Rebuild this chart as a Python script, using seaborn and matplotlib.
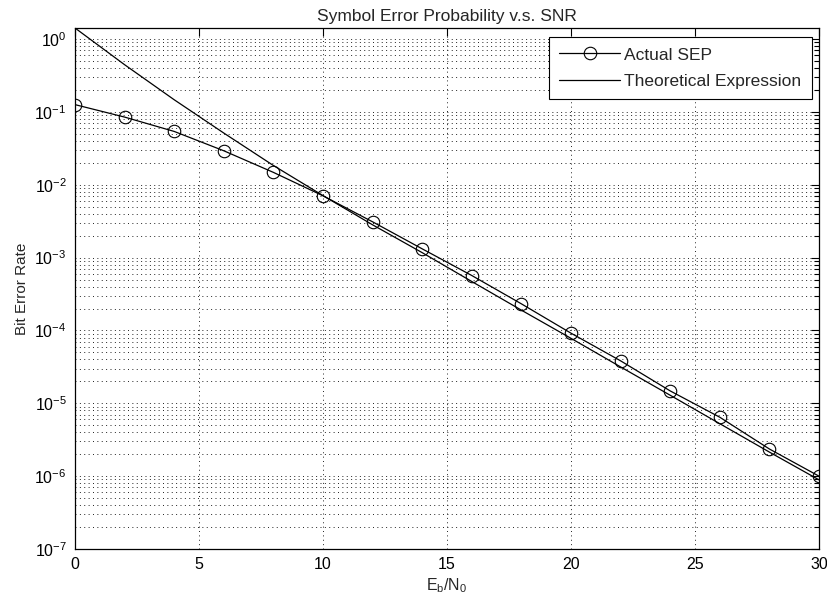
import matplotlib
matplotlib.use("Agg")
import matplotlib.pyplot as plt
from matplotlib.ticker import LogLocator, NullFormatter, FixedLocator
import numpy as np
import pandas as pd
import seaborn as sns

# Eb/N0 in dB
snr_db = [0, 2, 4, 6, 8, 10, 12, 14, 16, 18, 20, 22, 24, 26, 28, 30]

# simulated symbol error probability
actual_sep = [1.26e-1, 8.5e-2, 5.4e-2, 2.93e-2, 1.48e-2, 7.06e-3, 3.1e-3,
              1.32e-3, 5.68e-4, 2.32e-4, 9.18e-5, 3.83e-5, 1.48e-5,
              6.44e-6, 2.36e-6, 1.0e-6]

# closed-form curve
theory_sep = [1.42, 4.45e-1, 1.47e-1, 5.13e-2, 1.84e-2, 7.1e-3, 2.82e-3,
              1.17e-3, 4.7e-4, 1.9e-4, 7.8e-5, 3.16e-5, 1.29e-5,
              5.25e-6, 2.14e-6, 8.9e-7]

x_ticks = [0, 5, 10, 15, 20, 25, 30]
y_ticks = [1e-7, 1e-6, 1e-5, 1e-4, 1e-3, 1e-2, 1e-1, 1e0]

sns.set_style("white")
plt.rcParams["font.family"] = ["Liberation Sans", "DejaVu Sans"]
plt.rcParams["mathtext.fontset"] = "custom"
plt.rcParams["mathtext.rm"] = "Liberation Sans"
plt.rcParams["mathtext.it"] = "Liberation Sans"

df_actual = pd.DataFrame({"snr": snr_db, "sep": actual_sep})
df_theory = pd.DataFrame({"snr": snr_db, "sep": theory_sep})

fig = plt.figure(figsize=(8.28, 6.11), dpi=100)
ax = fig.add_axes([75 / 828, 1 - 549 / 611, 744 / 828, 521 / 611])

sns.lineplot(data=df_actual, x="snr", y="sep", ax=ax, color="black",
             linewidth=0.9, marker="o", markersize=9, markerfacecolor="none",
             markeredgecolor="black", markeredgewidth=0.8, label="Actual SEP")
sns.lineplot(data=df_theory, x="snr", y="sep", ax=ax, color="black",
             linewidth=0.9, label="Theoretical Expression")

ax.set_yscale("log")
ax.set_xlim(0, 30)
ax.set_ylim(1e-7, 1.42)
ax.xaxis.set_major_locator(FixedLocator(x_ticks))
ax.yaxis.set_major_locator(FixedLocator(y_ticks))
ax.yaxis.set_minor_locator(LogLocator(base=10, subs=np.arange(2, 10), numticks=20))
ax.yaxis.set_minor_formatter(NullFormatter())

dot = (0, (1, 3.5))
ax.grid(True, which="major", axis="both", color="#222222", linestyle=dot, linewidth=0.7)
ax.grid(True, which="minor", axis="y", color="#222222", linestyle=dot, linewidth=0.7)

ax.tick_params(which="both", direction="in", top=True, right=True,
               colors="black", labelsize=11.5)
ax.tick_params(which="major", length=6, width=0.8, pad=6)
ax.tick_params(which="minor", length=3.5, width=0.8)
for s in ax.spines.values():
    s.set_visible(True)
    s.set_color("black")
    s.set_linewidth(0.9)

ax.set_title("Symbol Error Probability v.s. SNR", fontsize=12.5, pad=5)
ax.set_xlabel(r"$\mathregular{E_b/N_0}$", fontsize=11.5, labelpad=3)
ax.set_ylabel("Bit Error Rate", fontsize=11, labelpad=4)

leg = ax.legend(loc="upper right", bbox_to_anchor=(812 / 828, 1 - 37 / 611),
                bbox_transform=fig.transFigure, borderaxespad=0, fancybox=False,
                framealpha=1, edgecolor="black", fontsize=12.5, handlelength=3.5,
                handletextpad=0.25, labelspacing=0.65, borderpad=0.6)
leg.get_frame().set_linewidth(0.8)

fig.savefig("out.png", dpi=100)
